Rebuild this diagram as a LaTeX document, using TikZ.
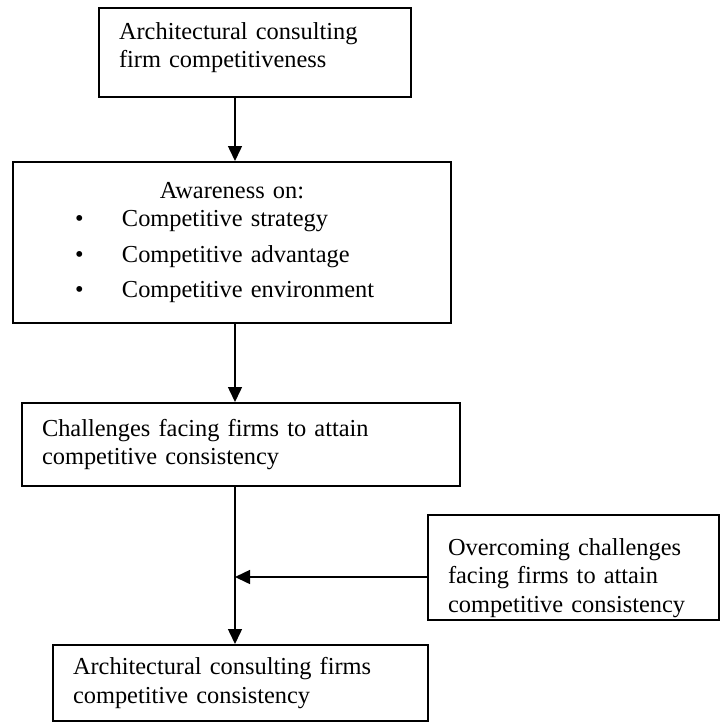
\documentclass[tikz,border=0pt]{standalone}
\usepackage{fontspec}
\setmainfont{Liberation Serif}
\usetikzlibrary{positioning}
\usetikzlibrary{shapes,arrows.meta}
\tikzstyle{block} = [rectangle, draw, line width=1pt, align=left,
    inner xsep=10pt, inner ysep=0pt, anchor=north west,
    font=\fontsize{12.2}{14.3}\selectfont]
\tikzstyle{line} = [draw, line width=0.75pt, -{Triangle[length=7.5pt,width=7pt]}]
\newcommand{\bul}[1]{\hspace*{21pt}\makebox[23.5pt][l]{\textbullet}#1}

\begin{document}
\begin{tikzpicture}[x=1pt, y=1pt]
    \useasboundingbox (0,0) rectangle (359.5,-361.5);
    % Place nodes
    \node [block, text width=136pt, minimum height=44.5pt] (init) at (49,-3.5)
        {Architectural consulting\\firm competitiveness\rule[-7.5pt]{0pt}{0pt}};
    \node [block, text width=199pt, minimum height=80.5pt] (aware) at (6,-80.5)
        {\centering Awareness on:\par\raggedright
         \bul{Competitive strategy}\\[3.5pt]
         \bul{Competitive advantage}\\[3.5pt]
         \bul{Competitive environment}};
    \node [block, text width=199pt, minimum height=41.5pt] (chal) at (10.5,-201)
        {Challenges facing firms to attain\\competitive consistency};
    \node [block, text width=125.5pt, minimum height=52.5pt] (over) at (213.5,-257)
        {\rule{0pt}{19pt}Overcoming challenges\\facing firms to attain\\competitive consistency};
    \node [block, text width=167.5pt, minimum height=38pt] (final) at (26,-322)
        {Architectural consulting firms\\competitive consistency};
    \coordinate (trunk) at (117.5,0);
    \coordinate (join) at (117.5,-288.5);
    % arrows
    \path [line] (init.south -| trunk) -- (aware.north -| trunk);
    \path [line] (aware.south -| trunk) -- (chal.north -| trunk);
    \path [line] (chal.south -| trunk) -- (final.north -| trunk);
    \path [line] (over.west |- join) -- (join);
\end{tikzpicture}
\end{document}
